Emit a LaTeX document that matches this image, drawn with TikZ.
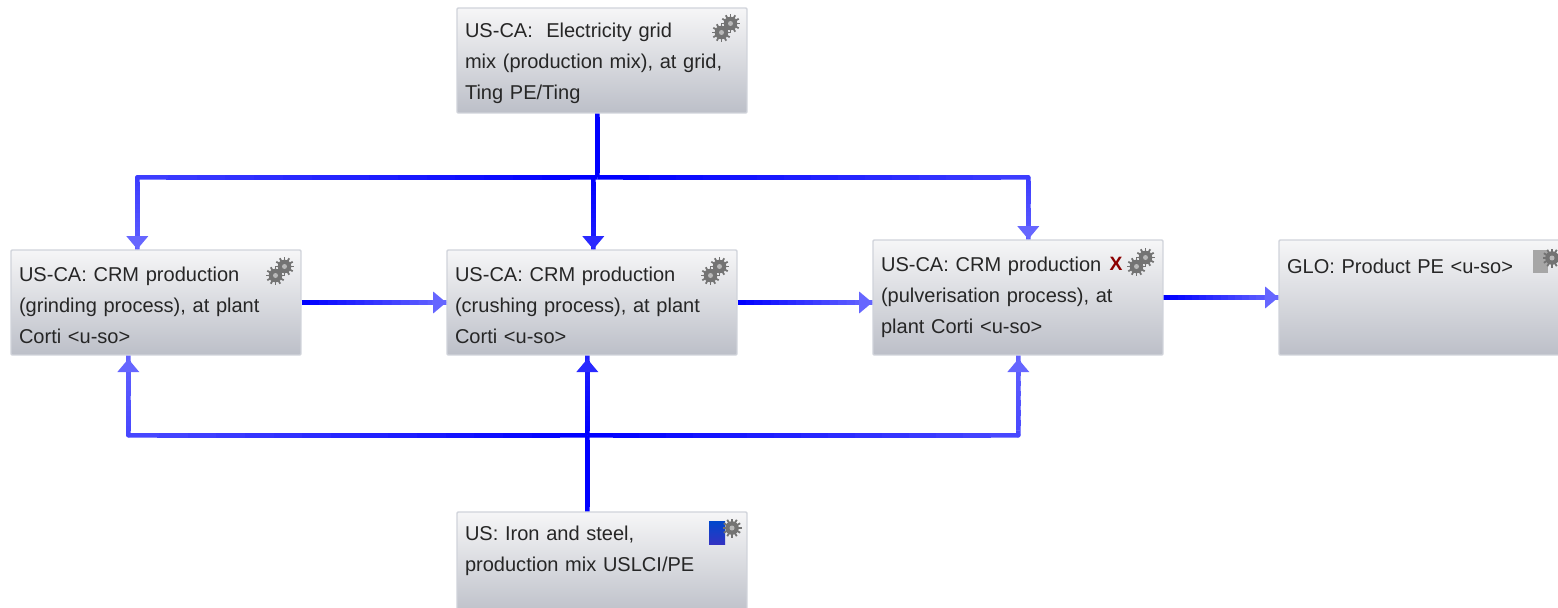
\documentclass[tikz,border=0pt]{standalone}
\usepackage{fontspec}
\setmainfont{Liberation Sans}
\usetikzlibrary{calc,arrows.meta}
\definecolor{flowstart}{HTML}{0000FF}
\definecolor{flowend}{HTML}{6666FF}
\definecolor{boxtop}{HTML}{F6F6F7}
\definecolor{boxbottom}{HTML}{BCBFC8}
\definecolor{boxedge}{HTML}{D0D3DA}
\tikzset{
  procbox/.style={draw=boxedge, line width=0.8pt, rounded corners=0.6pt, top color=boxtop, bottom color=boxbottom,
    minimum width=5.8cm, minimum height=2.1cm, inner xsep=0.16cm, inner ysep=0pt, text width=5.48cm, align=left,
    font=\fontsize{11.4}{17.64}\selectfont, text=black!85},
  flowline/.style={line width=2.6pt},
  flowtip/.style={line width=2.6pt, -{Triangle[length=7.5pt,width=12pt]}},
  gearone/.pic={
    \fill[black!55] (0,0) circle[radius=6.8];
    \foreach \ga in {0,30,...,330}
      \draw[black!55, line width=1pt] (0,0) -- (\ga:9.5);
    \fill[black!28] (0,0) circle[radius=2.5];
  },
  gears/.pic={
    \pic at (4.5,-4.5) {gearone};
    \pic at (-4.5,4.5) {gearone};
  }
}
\newcommand{\firstline}{\rule{0pt}{11.4pt}}
\newcommand{\flowseg}[4]{
  \foreach \k in {0,...,15} {
    \pgfmathsetmacro\kbeg{max(\k/16-0.004,0)}
    \pgfmathsetmacro\kend{(\k+1)/16}
    \pgfmathsetmacro\kmix{#3+(#4-#3)*\k/15}
    \draw[flowline, flowend!\kmix!flowstart] ($(#1)!\kbeg!(#2)$) -- ($(#1)!\kend!(#2)$);
  }
}
\newcommand{\flowhead}[4][0pt]{
  \draw[flowtip, shorten >=#1, flowend!#4!flowstart] ($(#3)!0.1!(#2)$) -- (#3);
}
\begin{document}
\begin{tikzpicture}[x=0.02cm, y=-0.02cm]
    \useasboundingbox (0,0) rectangle (1558,608);
    \clip (0,0) rectangle (1558,608);

    \coordinate (gridtrunk) at (597.3,177.3);
    \coordinate (gridmid) at (593.3,177.3);
    \coordinate (gridleft) at (137.3,177.3);
    \coordinate (gridright) at (1028.3,177.3);
    \coordinate (steelmid) at (587.3,435.3);
    \coordinate (steelleft) at (128.3,435.3);
    \coordinate (steelright) at (1018.3,435.3);

    \node[procbox] (grid) at (602,60.5) {\firstline US-CA:\ \ Electricity grid\\mix (production mix), at grid,\\Ting PE/Ting};
    \node[procbox] (grind) at (156,302.5) {\firstline US-CA: CRM production\\(grinding process), at plant\\Corti <u-so>};
    \node[procbox] (crush) at (592,302.5) {\firstline US-CA: CRM production\\(crushing process), at plant\\Corti <u-so>};
    \node[procbox, minimum height=2.3cm] (pulv) at (1018,297.5) {US-CA: CRM production\\(pulverisation process), at\\plant Corti <u-so>};
    \node[procbox, minimum height=2.3cm] (product) at (1424,297.5) {GLO: Product PE <u-so>\\~\\~};
    \node[procbox] (steel) at (602,564.5) {US: Iron and steel,\\production mix USLCI/PE\\~};

    % electricity
    \flowseg{gridtrunk |- grid.south}{gridtrunk}{0}{0}
    \flowseg{gridtrunk}{gridleft}{0}{60}
    \fill[flowend!60!flowstart] (gridleft) circle[radius=2.3];
    \flowseg{gridleft}{gridleft |- grind.north}{60}{90}
    \flowhead{gridleft}{gridleft |- grind.north}{100}
    \flowseg{gridtrunk}{gridright}{0}{60}
    \fill[flowend!60!flowstart] (gridright) circle[radius=2.3];
    \flowseg{gridright}{gridright |- pulv.north}{60}{90}
    \flowhead{gridright}{gridright |- pulv.north}{100}
    \flowseg{gridmid}{gridmid |- crush.north}{0}{30}
    \flowhead{gridmid}{gridmid |- crush.north}{40}

    % iron and steel
    \flowseg{steelmid |- steel.north}{steelmid}{0}{0}
    \flowseg{steelmid}{steelleft}{0}{70}
    \fill[flowend!70!flowstart] (steelleft) circle[radius=2.3];
    \flowseg{steelleft}{steelleft |- grind.south}{70}{95}
    \flowhead[1.8pt]{steelleft}{steelleft |- grind.south}{100}
    \flowseg{steelmid}{steelright}{0}{70}
    \fill[flowend!70!flowstart] (steelright) circle[radius=2.3];
    \flowseg{steelright}{steelright |- pulv.south}{70}{95}
    \flowhead[1.8pt]{steelright}{steelright |- pulv.south}{100}
    \flowseg{steelmid}{steelmid |- crush.south}{0}{30}
    \flowhead[1.8pt]{steelmid}{steelmid |- crush.south}{40}

    % process chain
    \flowseg{grind.east}{crush.west}{0}{100}
    \flowhead{grind.east}{crush.west}{100}
    \flowseg{crush.east}{crush.east -| pulv.west}{0}{100}
    \flowhead{crush.east}{crush.east -| pulv.west}{100}
    \flowseg{pulv.east}{product.west}{0}{100}
    \flowhead{pulv.east}{product.west}{100}

    \fill[top color=blue!65!cyan!80!black, bottom color=blue!70!black!80] (709,521) rectangle (725,544);
    \fill[black!35] (1533,250) rectangle (1548,273);
    \pic at (726,28) {gears};
    \pic at (280,271) {gears};
    \pic at (715,271) {gears};
    \pic at (1141,262) {gears};
    \pic at (1552,258) {gearone};
    \pic at (732,528) {gearone};
    \node[text=red!55!black, font=\fontsize{11}{13}\selectfont\bfseries, inner sep=0pt] (pulvmark) at (1116,264) {X};
  \end{tikzpicture}
\end{document}
